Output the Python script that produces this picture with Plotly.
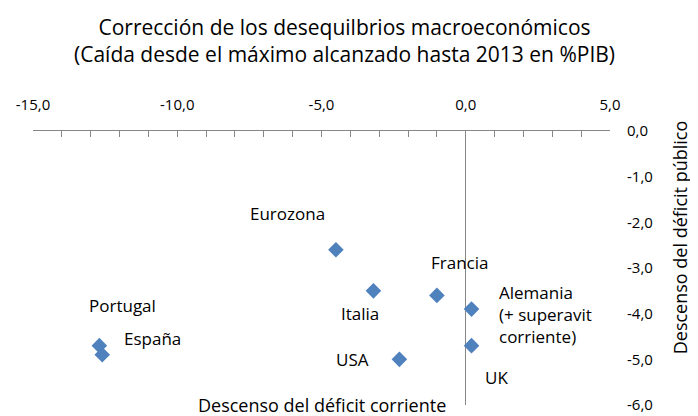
import plotly.graph_objects as go

countries = ["Eurozona", "Italia", "Francia", "Alemania", "UK", "USA", "Portugal", "España"]
corriente = [-4.5, -3.2, -1.0, 0.2, 0.2, -2.3, -12.7, -12.6]
publico = [-2.6, -3.5, -3.6, -3.9, -4.7, -5.0, -4.7, -4.9]
label_texts = ["Eurozona", "Italia", "Francia", "Alemania<br>(+ superavit<br>corriente)", "UK", "USA", "Portugal", "España"]

x_ticks = [-15, -10, -5, 0, 5]
x_ticktext = ["-15,0", "-10,0", "-5,0", "0,0", "5,0"]
y_ticks = [0, -1, -2, -3, -4, -5, -6]
y_ticktext = ["0,0", "-1,0", "-2,0", "-3,0", "-4,0", "-5,0", "-6,0"]

# label offsets in pixels (dx, dy up, xanchor)
offsets = [(-48, 36, "center"), (-13, -23, "center"), (23, 33, "center"),
           (25, -5, "left"), (25, -32, "center"), (-47, 0, "center"),
           (23, 40, "center"), (50, 16, "center")]

FONT = "Open Sans"
fig = go.Figure()
fig.add_trace(go.Scatter(
    x=corriente, y=publico, mode="markers",
    marker=dict(symbol="diamond", size=12, color="#4F81BD"),
    hoverinfo="text", text=countries, showlegend=False))

ann = []
for xv, yv, t, (dx, dy, xa) in zip(corriente, publico, label_texts, offsets):
    ann.append(dict(x=xv, y=yv, xref="x", yref="y", text=t, showarrow=False,
                    xshift=dx, yshift=dy, xanchor=xa, align="left",
                    font=dict(family=FONT, size=17, color="#000")))
ann.append(dict(x=0.5, y=0, xref="paper", yref="paper", text="Descenso del déficit corriente",
                showarrow=False, yanchor="middle", font=dict(family=FONT, size=18, color="#000")))
ann.append(dict(x=1.146, y=0.613, xref="paper", yref="paper", text="Descenso del déficit público",
                showarrow=False, textangle=-90, font=dict(family=FONT, size=18, color="#000")))
ann.append(dict(x=0.54, y=1.33, xref="paper", yref="paper",
                text="Corrección de los desequilbrios macroeconómicos<br>(Caída desde el máximo alcanzado hasta 2013 en %PIB)",
                showarrow=False, yanchor="middle", font=dict(family=FONT, size=21, color="#000")))

fig.update_layout(
    width=690, height=408,
    margin=dict(l=25, r=88, t=123, b=11),
    paper_bgcolor="white", plot_bgcolor="white",
    annotations=ann,
    xaxis=dict(range=[-15, 5], side="top", tickvals=x_ticks, ticktext=x_ticktext,
               showline=True, linecolor="#868686", linewidth=1,
               ticks="inside", ticklen=6, tickcolor="#868686",
               minor=dict(dtick=1, ticks="inside", ticklen=6, tickcolor="#868686"),
               showgrid=False, zeroline=True, zerolinecolor="#868686", zerolinewidth=1,
               tickfont=dict(family=FONT, size=15, color="#000"), ticklabelstandoff=14,
               automargin=False),
    yaxis=dict(range=[-6, 0], side="right", tickvals=y_ticks, ticktext=y_ticktext,
               showline=False, ticks="", showgrid=False, zeroline=False,
               tickfont=dict(family=FONT, size=15, color="#000"), ticklabelstandoff=16,
               automargin=False),
)

fig.write_html("out.html")
